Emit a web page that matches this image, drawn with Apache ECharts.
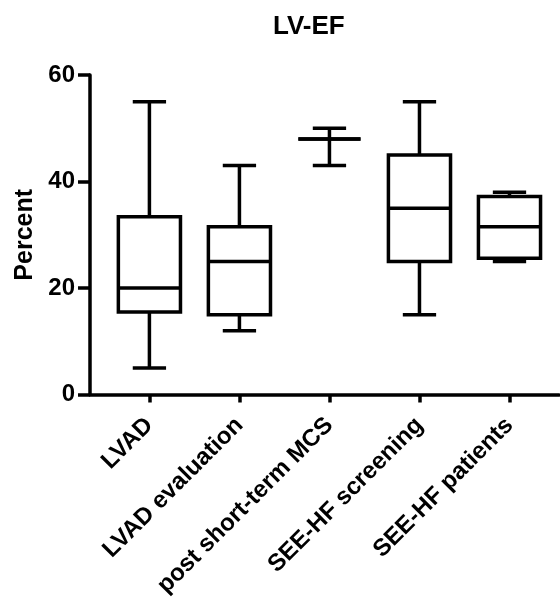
<!DOCTYPE html>
<html>
<head>
<meta charset="utf-8">
<script src="https://cdn.jsdelivr.net/npm/echarts@6/dist/echarts.min.js"></script>
<style>
  html, body { margin: 0; padding: 0; background: #ffffff; }
  #chart { width: 560px; height: 600px; }
</style>
</head>
<body>
<div id="chart"></div>
<script>
// Box-and-whisker summary of LV-EF (%) per patient group
const categories = ['LVAD', 'LVAD evaluation', 'post short-term MCS', 'SEE-HF screening', 'SEE-HF patients'];
const minVals    = [5,    12,   43, 15, 25];
const q1Vals     = [15.5, 15,   48, 25, 25.6];
const medianVals = [20,   25,   48, 35, 31.5];
const q3Vals     = [33.4, 31.5, 48, 45, 37.2];
const maxVals    = [55,   43,   50, 55, 38];
const yTicks     = [0, 20, 40, 60];

const positions = categories.map((c, i) => i + 1);
const boxData = categories.map((c, i) => [positions[i], minVals[i], q1Vals[i], medianVals[i], q3Vals[i], maxVals[i]]);

const FONT = '"Liberation Sans", Arial, sans-serif';
const LW = 3.5;

function renderBox(params, api) {
  const x = api.value(0);
  const pMin = api.coord([x, api.value(1)]);
  const pQ1  = api.coord([x, api.value(2)]);
  const pMed = api.coord([x, api.value(3)]);
  const pQ3  = api.coord([x, api.value(4)]);
  const pMax = api.coord([x, api.value(5)]);
  const unit = api.size([1, 0])[0];
  const bh = unit * 0.345;   // half box width
  const ch = unit * 0.185;   // half whisker-cap width
  const cx = pMed[0];
  const st = { stroke: '#000', fill: null, lineWidth: LW };
  const line = (x1, y1, x2, y2) => ({ type: 'line', shape: { x1, y1, x2, y2 }, style: st });
  return {
    type: 'group',
    children: [
      line(cx, pQ3[1], cx, pMax[1]),
      line(cx, pQ1[1], cx, pMin[1]),
      line(cx - ch, pMax[1], cx + ch, pMax[1]),
      line(cx - ch, pMin[1], cx + ch, pMin[1]),
      { type: 'rect', shape: { x: cx - bh, y: pQ3[1], width: 2 * bh, height: pQ1[1] - pQ3[1] },
        style: { stroke: '#000', fill: '#fff', lineWidth: LW } },
      line(cx - bh, pMed[1], cx + bh, pMed[1])
    ]
  };
}

const chart = echarts.init(document.getElementById('chart'), null, { renderer: 'canvas' });
chart.setOption({
  animation: false,
  backgroundColor: '#ffffff',
  title: {
    text: 'LV-EF',
    left: 268,
    top: 9,
    textStyle: { fontFamily: FONT, fontWeight: 'bold', fontSize: 26, color: '#000' }
  },
  grid: { left: 90, right: 1, top: 75, bottom: 203, containLabel: false },
  xAxis: {
    type: 'value',
    min: 0.34,
    max: 5.55,
    splitLine: { show: false },
    axisLine: { show: true, onZero: false, lineStyle: { color: '#000', width: LW } },
    axisTick: { show: true, customValues: positions, length: 8, lineStyle: { color: '#000', width: LW } },
    axisLabel: {
      customValues: positions,
      rotate: 45,
      margin: 27,
      formatter: v => categories[Math.round(v) - 1] || '',
      fontFamily: FONT, fontWeight: 'bold', fontSize: 24, color: '#000'
    }
  },
  yAxis: {
    type: 'value',
    min: 0,
    max: 60,
    interval: 20,
    name: 'Percent',
    nameLocation: 'middle',
    nameGap: 52,
    nameTextStyle: { fontFamily: FONT, fontWeight: 'bold', fontSize: 25, color: '#000' },
    splitLine: { show: false },
    axisLine: { show: true, lineStyle: { color: '#000', width: LW } },
    axisTick: { show: true, length: 12, lineStyle: { color: '#000', width: LW } },
    axisLabel: {
      margin: 15,
      customValues: yTicks,
      fontFamily: FONT, fontWeight: 'bold', fontSize: 24, color: '#000'
    }
  },
  series: [{
    type: 'custom',
    renderItem: renderBox,
    encode: { x: 0, y: [1, 2, 3, 4, 5] },
    data: boxData
  }]
});
</script>
</body>
</html>
